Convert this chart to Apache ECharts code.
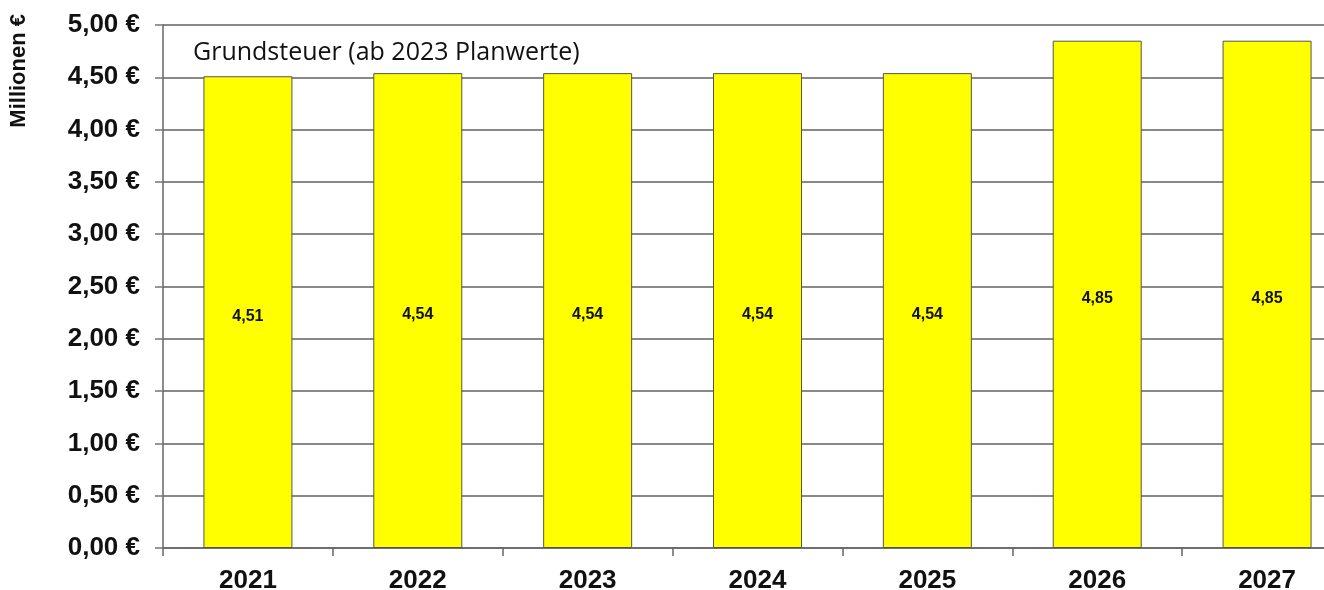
<!DOCTYPE html>
<html>
<head>
<meta charset="utf-8">
<script src="https://cdn.jsdelivr.net/npm/echarts@6/dist/echarts.min.js"></script>
<style>
  html, body { margin: 0; padding: 0; background: #ffffff; }
  #chart { width: 1324px; height: 590px; }
</style>
</head>
<body>
<div id="chart"></div>
<script>
// Jahre und Grundsteuer-Werte (Mio. €)
const years = ['2021', '2022', '2023', '2024', '2025', '2026', '2027'];
const grundsteuer = [4.51, 4.54, 4.54, 4.54, 4.54, 4.85, 4.85];
const titleText = 'Grundsteuer (ab 2023 Planwerte)';
const unitText = 'Millionen €';

const fmt = v => v.toFixed(2).replace('.', ',');

const chart = echarts.init(document.getElementById('chart'), null, { renderer: 'canvas' });

chart.setOption({
  animation: false,
  backgroundColor: '#ffffff',
  // the plot runs past the right edge of the canvas
  grid: { left: 163, top: 25, width: 1189, height: 523, containLabel: false, outerBoundsMode: 'none' },
  title: {
    text: titleText,
    left: 188,
    top: 35,
    textStyle: { fontFamily: 'Open Sans', fontWeight: 'normal', fontSize: 25, color: '#111111' }
  },
  graphic: [{
    type: 'text',
    x: 19,
    y: 14,
    rotation: Math.PI / 2,
    style: {
      text: unitText,
      fontFamily: 'Liberation Sans, Arial',
      fontWeight: 'bold',
      fontSize: 22,
      fill: '#111111',
      align: 'right',
      verticalAlign: 'middle'
    }
  }],
  xAxis: {
    type: 'category',
    data: years,
    boundaryGap: true,
    axisLine: { show: true, lineStyle: { color: '#666666', width: 1.5 } },
    axisTick: { show: true, length: 8, alignWithLabel: false, lineStyle: { color: '#666666', width: 1.5 } },
    axisLabel: {
      margin: 20,
      fontFamily: 'Liberation Sans, Arial',
      fontWeight: 'bold',
      fontSize: 26,
      color: '#111111'
    }
  },
  yAxis: {
    type: 'value',
    min: 0,
    max: 5,
    interval: 0.5,
    axisLine: { show: true, lineStyle: { color: '#666666', width: 1.5 } },
    axisTick: { show: true, length: 8, lineStyle: { color: '#777777', width: 1.5 } },
    axisLabel: {
      margin: 23,
      formatter: v => fmt(v) + ' €',
      fontFamily: 'Liberation Sans, Arial',
      fontWeight: 'bold',
      fontSize: 26,
      color: '#111111'
    },
    splitLine: { show: true, lineStyle: { color: '#888888', width: 2 } }
  },
  series: [{
    type: 'bar',
    data: grundsteuer,
    barWidth: 89,
    itemStyle: { color: '#ffff00', borderColor: '#555555', borderWidth: 1 },
    label: {
      show: true,
      position: 'inside',
      offset: [0, 4],
      formatter: p => fmt(p.value),
      fontFamily: 'Liberation Sans, Arial',
      fontWeight: 'bold',
      fontSize: 16,
      color: '#111111'
    }
  }]
});
</script>
</body>
</html>
